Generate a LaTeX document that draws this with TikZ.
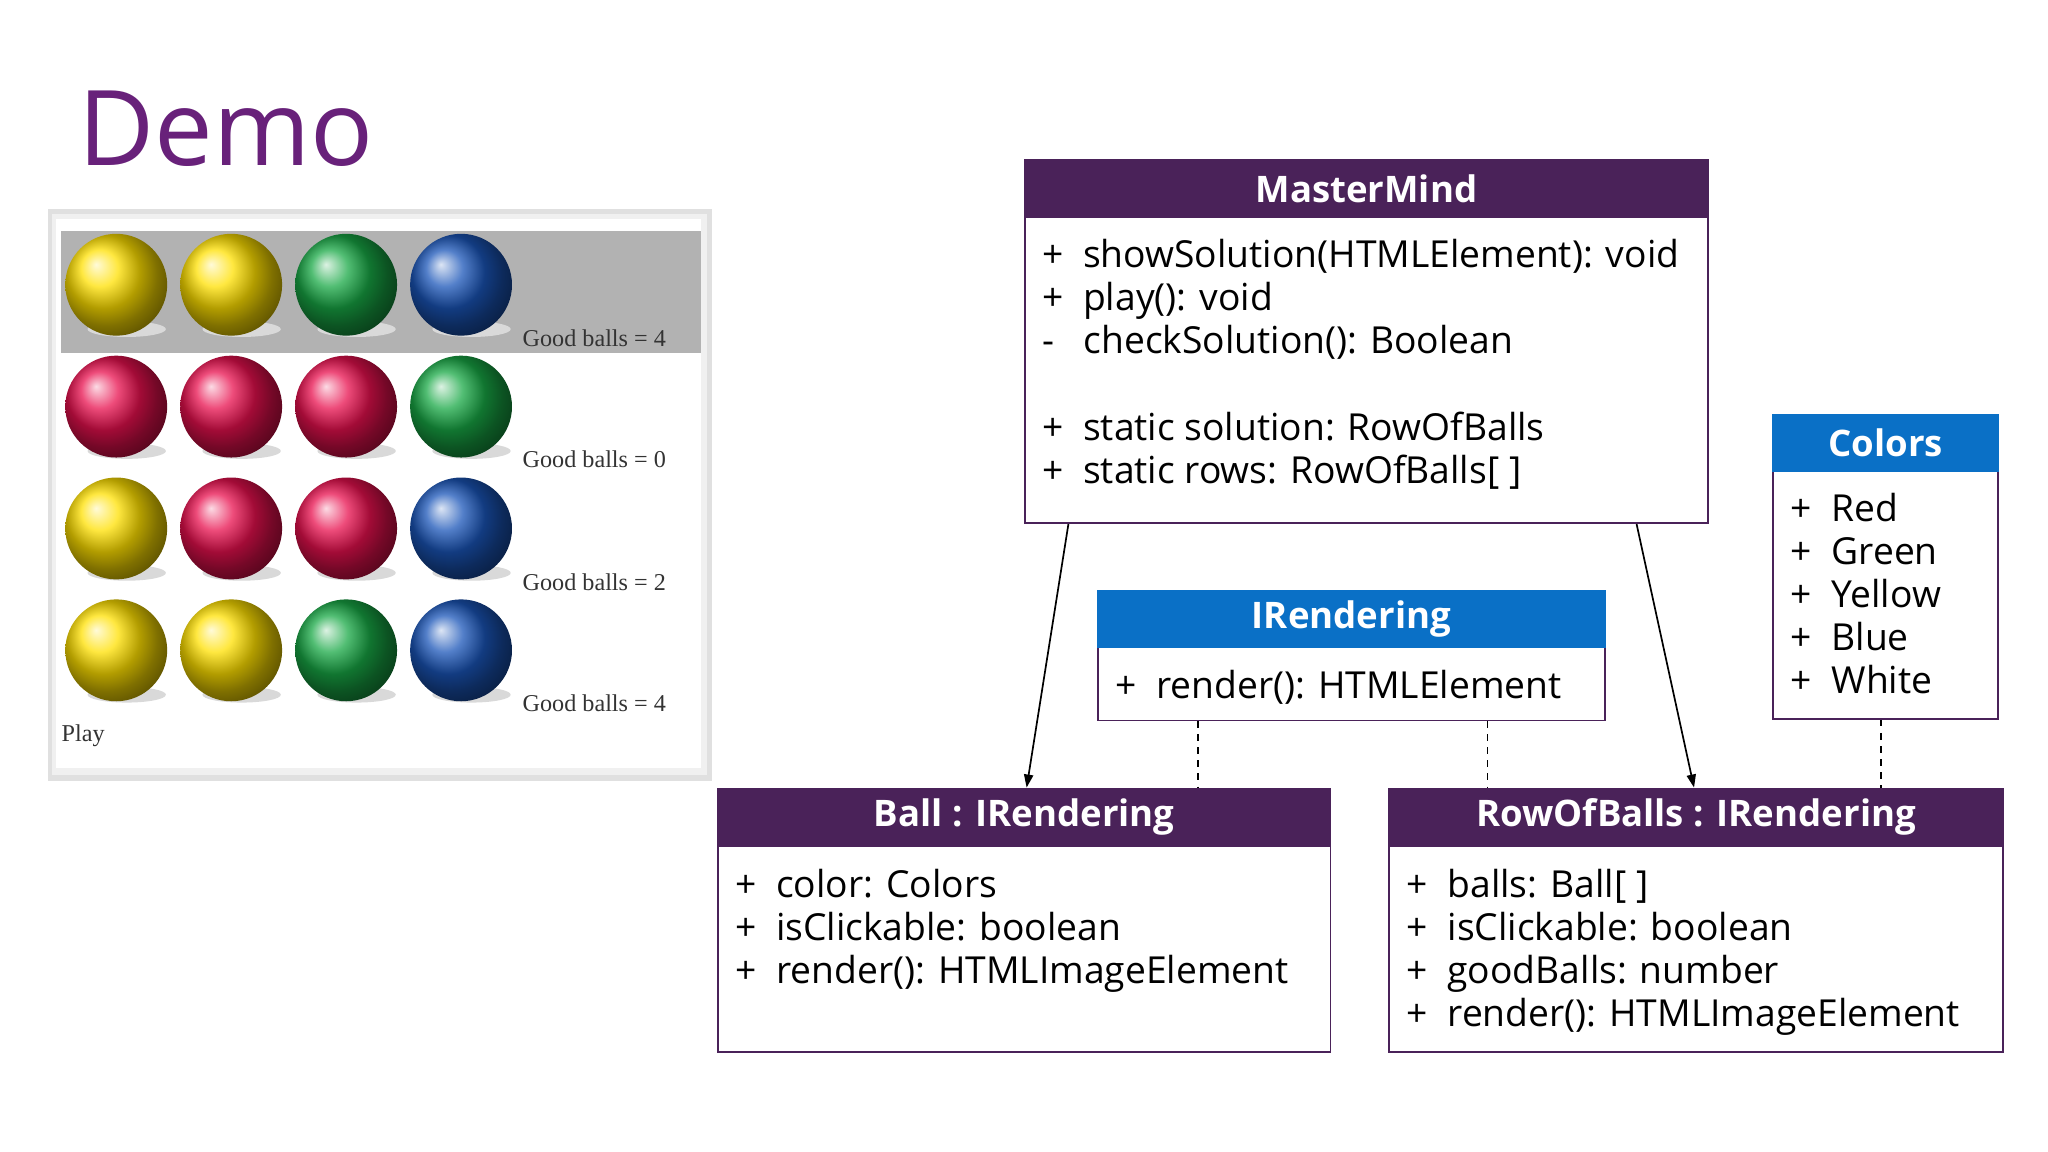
\documentclass[tikz,border=0pt]{standalone}
\usepackage{fontspec}
\setmainfont{Open Sans}
\newfontfamily\serifx{Liberation Serif}
\usetikzlibrary{arrows.meta,shadows}
\definecolor{hdrP}{HTML}{4A2259}
\definecolor{hdrB}{HTML}{0A70C6}
\definecolor{demoP}{HTML}{68217A}
\definecolor{bY}{HTML}{FFE000}
\definecolor{bG}{HTML}{18A845}
\definecolor{bB}{HTML}{1A55B8}
\definecolor{bR}{HTML}{E8104E}
\tikzset{
 body/.style={draw=hdrP,line width=1.2pt,fill=white,anchor=north west,inner sep=0},
 hdr/.style={draw=hdrP,line width=1.2pt,fill=hdrP,anchor=north west,inner sep=0,text=white,font=\fontsize{28}{30}\selectfont\bfseries},
 hdrb/.style={hdr,draw=hdrB,fill=hdrB},
 ln/.style={anchor=base west,inner sep=0,font=\fontsize{28.5}{30}\selectfont},
 gb/.style={anchor=base west,inner sep=0,font=\serifx\fontsize{18.5}{20}\selectfont,text=black!80},
 arr/.style={-{Triangle[length=10pt,width=7pt]},line width=1.3pt},
 dsh/.style={dashed,line width=1.2pt,dash pattern=on 5pt off 5pt},
}
\begin{document}
\begin{tikzpicture}[x=1pt,y=-1pt]
\fill[white] (0,0) rectangle (1568,882);
\useasboundingbox (0,0) rectangle (1568,882);
\node[anchor=base west,inner sep=0,text=demoP,font=\fontsize{80}{90}\selectfont] (demo) at (60,127) {Demo};
% screenshot
\fill[black!12] (37,160) rectangle (545,598);
\fill[black!6] (40,164) rectangle (541,593);
\fill[white] (43,168) rectangle (537,588);
\fill[black!30] (47,177) rectangle (537,270);
\foreach \r/\cs in {0/{bY,bY,bG,bB},1/{bR,bR,bR,bG},2/{bY,bR,bR,bB},3/{bY,bY,bG,bB}}{
  \foreach \c [count=\i from 0] in \cs {
    \fill[black!15] (89+88*\i+8,218+93.3*\r+34) ellipse (30 and 6);
    \shade[ball color=\c] (89+88*\i,218+93.3*\r) circle (39);
  }
}
\node[gb] (g1) at (400,265) {Good balls = 4};
\node[gb] (g2) at (400,358) {Good balls = 0};
\node[gb] (g3) at (400,452) {Good balls = 2};
\node[gb] (g4) at (400,545) {Good balls = 4};
\node[gb] (play) at (47,568) {Play};
% MasterMind
\node[body,minimum width=523,minimum height=234] (mmb) at (784,166) {};
\node[hdr,minimum width=523,minimum height=44] (mmh) at (784,122) {MasterMind};
\node[ln] (m1) at (798,205) {+ \ showSolution(HTMLElement): void};
\node[ln] (m2) at (798,238) {+ \ play(): void};
\node[ln] (m3) at (798,271) {- \ \ checkSolution(): Boolean};
\node[ln] (m4) at (798,337) {+ \ static solution: RowOfBalls};
\node[ln] (m5) at (798,370) {+ \ static rows: RowOfBalls[ ]};
% Colors
\node[body,minimum width=172,minimum height=190] (cb) at (1357,360) {};
\node[hdrb,minimum width=172,minimum height=43] (ch) at (1357,317) {Colors};
\node[ln] (c1) at (1371,399) {+ \ Red};
\node[ln] (c2) at (1371,432) {+ \ Green};
\node[ln] (c3) at (1371,465) {+ \ Yellow};
\node[ln] (c4) at (1371,498) {+ \ Blue};
\node[ln] (c5) at (1371,531) {+ \ White};
% IRendering
\node[body,minimum width=388,minimum height=56] (ib) at (840,495) {};
\node[hdrb,minimum width=388,minimum height=43] (ih) at (840,452) {IRendering};
\node[ln] (i1) at (854,535) {+ \ render(): HTMLElement};
% Ball
\node[body,minimum width=469,minimum height=158] (bb) at (549,647) {};
\node[hdr,minimum width=469,minimum height=44] (bh) at (549,603) {Ball : IRendering};
\node[ln] (b1) at (563,687) {+ \ color: Colors};
\node[ln] (b2) at (563,720) {+ \ isClickable: boolean};
\node[ln] (b3) at (563,753) {+ \ render(): HTMLImageElement};
% RowOfBalls
\node[body,minimum width=470,minimum height=158] (rb) at (1063,647) {};
\node[hdr,minimum width=470,minimum height=44] (rh) at (1063,603) {RowOfBalls : IRendering};
\node[ln] (r1) at (1077,687) {+ \ balls: Ball[ ]};
\node[ln] (r2) at (1077,720) {+ \ isClickable: boolean};
\node[ln] (r3) at (1077,753) {+ \ goodBalls: number};
\node[ln] (r4) at (1077,786) {+ \ render(): HTMLImageElement};
% connectors
\draw[arr] (mmb.south west -| 818,0) -- (bh.north west -| 786,0);
\draw[arr] (mmb.south west -| 1253,0) -- (rh.north west -| 1297,0);
\draw[dsh] (ib.south west -| 917,0) -- (bh.north west -| 917,0);
\draw[dsh] (ib.south west -| 1139,0) -- (rh.north west -| 1139,0);
\draw[dsh] (cb.south west -| 1440,0) -- (rh.north west -| 1440,0);
\end{tikzpicture}
\end{document}
